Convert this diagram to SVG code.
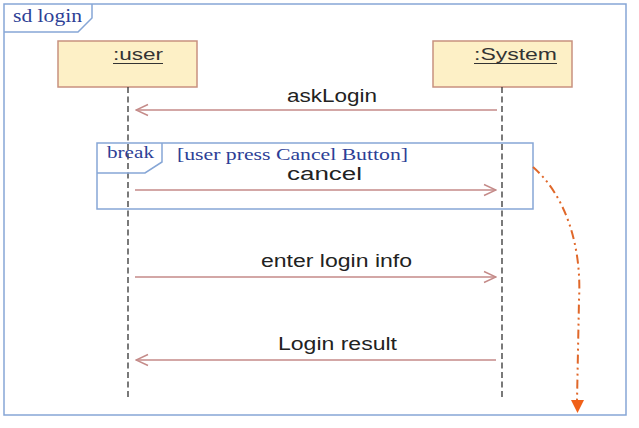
<svg xmlns="http://www.w3.org/2000/svg" width="639" height="428" viewBox="0 0 639 428">
<style>
.frame{fill:none;stroke:#86a6d6;stroke-width:1.5}
.lbl{font-family:"Liberation Serif",serif;fill:#2d3f96}
.obj{fill:#fdf0c6;stroke:#c8917f;stroke-width:1.5}
.objt{font-family:"Liberation Sans",Arial,sans-serif;font-size:17px;fill:#333}
.life{stroke:#333;stroke-width:1.3;stroke-dasharray:6 3.5;fill:none}
.msg{stroke:#c48a88;stroke-width:1.4;fill:none}
.mt{font-family:"Liberation Sans",Arial,sans-serif;font-size:17.5px;fill:#222}
</style>
<defs>
<marker id="open" viewBox="0 0 14 14" refX="13" refY="7" markerWidth="14" markerHeight="14" markerUnits="userSpaceOnUse" orient="auto">
<path d="M1,1.5 L13,7 L1,12.5" fill="none" stroke="#c48a88" stroke-width="1.4"/>
</marker>
</defs>
<g id="frame-sd">
<rect class="frame" x="4" y="4" width="622" height="411"/>
<path class="frame" d="M4,32 H78 L92,18 V4"/>
<text class="lbl" x="13" y="22" font-size="18" textLength="69" lengthAdjust="spacingAndGlyphs">sd login</text>
</g>
<g id="user">
<rect class="obj" x="58" y="41" width="139" height="46"/>
<text class="objt" x="113" y="60" textLength="50" lengthAdjust="spacingAndGlyphs">:user</text>
<line x1="113" y1="63.5" x2="163" y2="63.5" stroke="#333" stroke-width="1"/>
</g>
<g id="system">
<rect class="obj" x="433" y="41" width="139" height="46"/>
<text class="objt" x="474" y="60" textLength="83" lengthAdjust="spacingAndGlyphs">:System</text>
<line x1="474" y1="63.5" x2="557" y2="63.5" stroke="#333" stroke-width="1"/>
</g>
<g id="lifelines">
<line class="life" x1="128" y1="87" x2="128" y2="399"/>
<line class="life" x1="502" y1="87" x2="502" y2="399"/>
</g>
<g id="break">
<rect class="frame" x="97" y="143" width="436" height="66"/>
<path class="frame" d="M97,173 H145 L162,162 V143"/>
<text class="lbl" x="107" y="158" font-size="17" textLength="47" lengthAdjust="spacingAndGlyphs">break</text>
<text class="lbl" x="177" y="160" font-size="16" textLength="231" lengthAdjust="spacingAndGlyphs">[user press Cancel Button]</text>
</g>
<g id="connectors">
<line class="msg" x1="497" y1="110" x2="136" y2="110" marker-end="url(#open)"/>
<text class="mt" x="287" y="102" textLength="90" lengthAdjust="spacingAndGlyphs">askLogin</text>
<line class="msg" x1="135" y1="190" x2="496" y2="190" marker-end="url(#open)"/>
<text class="mt" x="287" y="180" font-size="17" textLength="75" lengthAdjust="spacingAndGlyphs">cancel</text>
<line class="msg" x1="135" y1="277" x2="496" y2="277" marker-end="url(#open)"/>
<text class="mt" x="261" y="267" textLength="151" lengthAdjust="spacingAndGlyphs">enter login info</text>
<line class="msg" x1="496" y1="360" x2="136" y2="360" marker-end="url(#open)"/>
<text class="mt" x="278" y="350" textLength="119" lengthAdjust="spacingAndGlyphs">Login result</text>
<path d="M533,167 C565,195 582,245 579,300 L577,401" fill="none" stroke="#e0682a" stroke-width="2" stroke-dasharray="9 4 2 4 2 4"/>
<polygon points="571,400 584,400 577.5,413" fill="#f06018"/>
</g>
</svg>
